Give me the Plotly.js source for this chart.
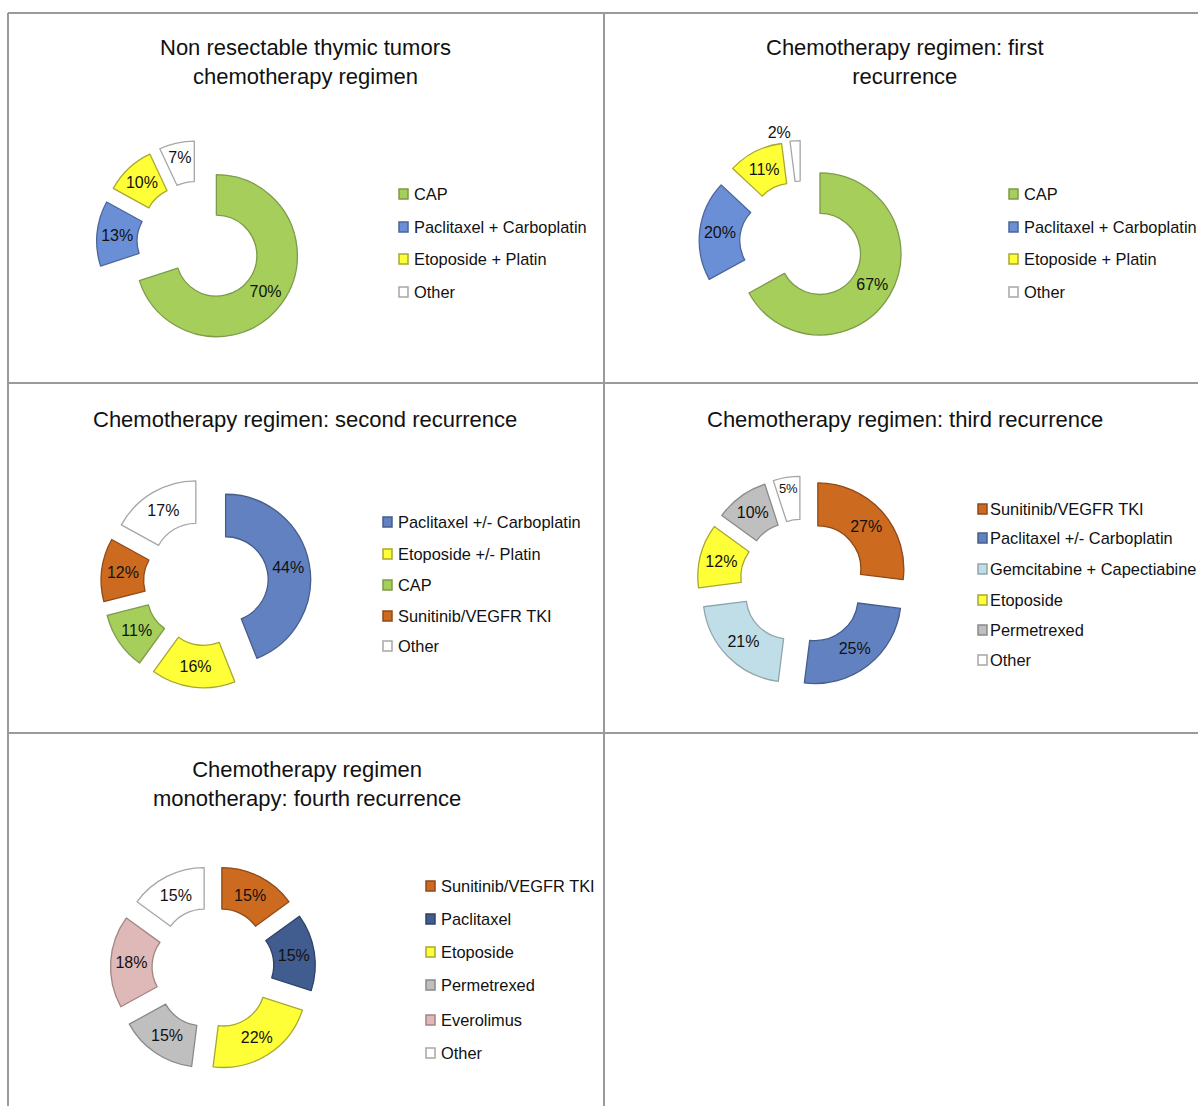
<!DOCTYPE html>
<html>
<head>
<meta charset="utf-8">
<script src="https://cdn.plot.ly/plotly-3.0.1.min.js"></script>
<style>
  html, body { margin: 0; padding: 0; background: #ffffff; }
  #chart { width: 1198px; height: 1106px; }
</style>
</head>
<body>
<div id="chart"></div>
<script>
// ---------- DATA ----------
const titles = [
  'Non resectable thymic tumors<br>chemotherapy regimen',
  'Chemotherapy regimen: first<br>recurrence',
  'Chemotherapy regimen: second recurrence',
  'Chemotherapy regimen: third recurrence',
  'Chemotherapy regimen<br>monotherapy: fourth recurrence'
];

const labels1 = ['CAP', 'Paclitaxel + Carboplatin', 'Etoposide + Platin', 'Other'];
const values1 = [70, 13, 10, 7];

const labels2 = ['CAP', 'Paclitaxel + Carboplatin', 'Etoposide + Platin', 'Other'];
const values2 = [67, 20, 11, 2];

const labels3 = ['Paclitaxel +/- Carboplatin', 'Etoposide +/- Platin', 'CAP', 'Sunitinib/VEGFR TKI', 'Other'];
const values3 = [44, 16, 11, 12, 17];

const labels4 = ['Sunitinib/VEGFR TKI', 'Paclitaxel +/- Carboplatin', 'Gemcitabine + Capectiabine', 'Etoposide', 'Permetrexed', 'Other'];
const values4 = [27, 25, 21, 12, 10, 5];

const labels5 = ['Sunitinib/VEGFR TKI', 'Paclitaxel', 'Etoposide', 'Permetrexed', 'Everolimus', 'Other'];
const values5 = [15, 15, 22, 15, 18, 15];

// ---------- STYLES ----------
const C = {
  green:  ['#a5cf5a', '#7e9a4a'],
  blue:   ['#6a8fd6', '#4b6699'],
  blue2:  ['#6281c0', '#465d8c'],
  navy:   ['#415c8e', '#2f4266'],
  yellow: ['#ffff38', '#a8a830'],
  white:  ['#ffffff', '#a6a6a6'],
  orange: ['#cc6a20', '#8f4a18'],
  light:  ['#c0dee8', '#8fa6ad'],
  gray:   ['#bfbfbf', '#8a8a8a'],
  pink:   ['#dfb8b8', '#a08585']
};
const colors1 = [C.green, C.blue, C.yellow, C.white];
const colors2 = [C.green, C.blue, C.yellow, C.white];
const colors3 = [C.blue2, C.yellow, C.green, C.orange, C.white];
const colors4 = [C.orange, C.blue2, C.light, C.yellow, C.gray, C.white];
const colors5 = [C.orange, C.navy, C.yellow, C.gray, C.pink, C.white];

const W = 1198, H = 1106;
const FONT = 'Liberation Sans, Arial, Helvetica, sans-serif';
const px = x => x / W;
const py = y => 1 - y / H;

// panel layout (pixel geometry)
const panels = [
  {labels: labels1, values: values1, colors: colors1, cx: 199,   cy: 243, R: 81, pull: 0.265,
   titleX: 305, titleY: 62, legSq: 399, legTx: 412, legY: [194, 227, 259, 292],
   textpos: ['inside','inside','inside','inside']},
  {labels: labels2, values: values2, colors: colors2, cx: 801.5, cy: 243, R: 81, pull: 0.265,
   titleX: 905, titleY: 62, legSq: 1009, legTx: 1022, legY: [194, 227, 259, 292],
   textpos: ['inside','inside','inside','outside']},
  {labels: labels3, values: values3, colors: colors3, cx: 206,   cy: 583, R: 85, pull: 0.235,
   titleX: 305, titleY: 419, legSq: 383, legTx: 396, legY: [522, 554, 585, 616, 646],
   textpos: ['inside','inside','inside','inside','inside']},
  {labels: labels4, values: values4, colors: colors4, cx: 803,   cy: 582, R: 86, pull: 0.23,
   titleX: 905, titleY: 419, legSq: 978, legTx: 988, legY: [509, 538, 569, 600, 630, 660],
   textpos: ['inside','inside','inside','inside','inside','inside']},
  {labels: labels5, values: values5, colors: colors5, cx: 213,   cy: 968, R: 83, pull: 0.235,
   titleX: 307, titleY: 784, legSq: 426, legTx: 439, legY: [886, 919, 952, 985, 1020, 1053],
   textpos: ['inside','inside','inside','inside','inside','inside']}
];

const data = [];
const annotations = [];
const shapes = [];

// panel frame lines
const lineStyle = {color: '#9a9a9a', width: 2};
const frame = [
  [8, 13, 1198, 13],
  [8, 13, 8, 1106],
  [604, 13, 604, 1106],
  [8, 383, 1198, 383],
  [8, 733, 1198, 733]
];
frame.forEach(f => shapes.push({type: 'line', xref: 'paper', yref: 'paper',
  x0: px(f[0]), y0: py(f[1]), x1: px(f[2]), y1: py(f[3]), line: lineStyle, layer: 'below'}));

panels.forEach((p, k) => {
  const D = p.R * (1 + p.pull);
  data.push({
    type: 'pie',
    labels: p.labels,
    values: p.values,
    sort: false,
    direction: 'clockwise',
    rotation: 0,
    hole: 0.5,
    pull: p.pull,
    textinfo: 'text',
    texttemplate: '%{value}%',
    textposition: p.textpos,
    insidetextorientation: 'horizontal',
    textfont: {family: FONT, size: 16, color: '#111111'},
    outsidetextfont: {family: FONT, size: 16, color: '#111111'},
    marker: {
      colors: p.colors.map(c => c[0]),
      line: {color: p.colors.map(c => c[1]), width: 1.3}
    },
    domain: {x: [px(p.cx - D), px(p.cx + D)], y: [py(p.cy + D), py(p.cy - D)]},
    hoverinfo: 'label+percent',
    showlegend: false
  });

  annotations.push({
    xref: 'paper', yref: 'paper', x: px(p.titleX), y: py(p.titleY),
    xanchor: 'center', yanchor: 'middle', showarrow: false,
    text: titles[k],
    font: {family: FONT, size: 22, color: '#111111'}
  });

  p.labels.forEach((lab, i) => {
    const yy = p.legY[i];
    shapes.push({type: 'rect', xref: 'paper', yref: 'paper',
      x0: px(p.legSq), x1: px(p.legSq + 9), y0: py(yy + 5), y1: py(yy - 5),
      fillcolor: p.colors[i][0], line: {color: p.colors[i][1], width: 1.5}});
    annotations.push({
      xref: 'paper', yref: 'paper', x: px(p.legTx), y: py(yy),
      xanchor: 'left', yanchor: 'middle', showarrow: false,
      text: lab, font: {family: FONT, size: 16.4, color: '#111111'}
    });
  });
});

const layout = {
  width: W, height: H,
  margin: {l: 0, r: 0, t: 0, b: 0},
  paper_bgcolor: '#ffffff',
  plot_bgcolor: '#ffffff',
  showlegend: false,
  annotations: annotations,
  shapes: shapes,
  font: {family: FONT}
};

Plotly.newPlot('chart', data, layout, {displayModeBar: false, responsive: false});
</script>
</body>
</html>
